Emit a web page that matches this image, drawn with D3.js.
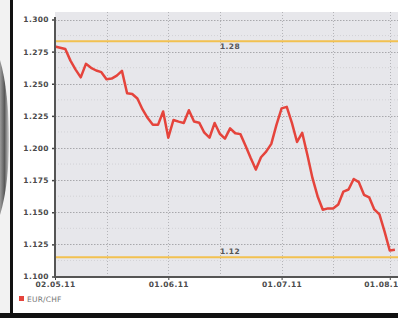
<!DOCTYPE html>
<html>
<head>
<meta charset="utf-8">
<script src="https://cdn.jsdelivr.net/npm/d3@7/dist/d3.min.js"></script>
<style>
  html, body { margin: 0; padding: 0; background: #fff; }
  svg { display: block; }
</style>
</head>
<body>
<script>
// ---- data ----
const seriesName = "EUR/CHF";
// daily (trading-day) closes, 02.05.11 .. 02.08.11
const values = [
  1.279, 1.278, 1.277, 1.268, 1.261, 1.255, 1.2655, 1.2624, 1.2603, 1.259,
  1.2535, 1.254, 1.2563, 1.260, 1.2426, 1.242, 1.2385, 1.230, 1.2233, 1.218,
  1.218, 1.2284, 1.208, 1.2218, 1.2205, 1.2195, 1.2294, 1.2206, 1.2197, 1.2119,
  1.208, 1.2195, 1.2111, 1.2073, 1.2153, 1.2115, 1.2108, 1.2018, 1.1922, 1.1832,
  1.1928, 1.1972, 1.2032, 1.218, 1.2308, 1.232, 1.2195, 1.2047, 1.2118, 1.1947,
  1.1765, 1.1623, 1.152, 1.153, 1.153, 1.1561, 1.1661, 1.1677, 1.1759, 1.1734,
  1.1636, 1.1616, 1.1522, 1.1483, 1.1349, 1.1202, 1.1208
];
const xTickIndex = [0, 22, 44, 65];
const xTickLabels = ["02.05.11", "01.06.11", "01.07.11", "01.08.11"];
const xMinorIndex = [10, 32, 54];
const yTicks = [1.100, 1.125, 1.150, 1.175, 1.200, 1.225, 1.250, 1.275, 1.300];
const refValues = [1.283, 1.115];
const refLabels = ["1.28", "1.12"];

// ---- layout ----
const W = 398, H = 318;
const svg = d3.select("body").append("svg").attr("width", W).attr("height", H);

const plotL = 55, plotR = 398, plotT = 12, plotB = 277;
const x = d3.scaleLinear().domain([0, 65]).range([55, 389.75]);
const y = d3.scaleLinear().domain([1.1, 1.3]).range([276.5, 19.5]);

// left photographed edge
const defs = svg.append("defs");
const g1 = defs.append("linearGradient").attr("id", "edge").attr("x1", 0).attr("x2", 1);
g1.append("stop").attr("offset", 0).attr("stop-color", "#9a9a9a");
g1.append("stop").attr("offset", 0.5).attr("stop-color", "#5a5a5a");
g1.append("stop").attr("offset", 1).attr("stop-color", "#cfcfcf");
svg.append("rect").attr("x", 0).attr("y", 0).attr("width", 10).attr("height", H).attr("fill", "#f2f2f2");
svg.append("path")
  .attr("d", "M0,60 C6,80 9,110 9,140 C9,170 6,195 0,215 Z")
  .attr("fill", "url(#edge)");
svg.append("rect").attr("x", 10).attr("y", 0).attr("width", 3).attr("height", H).attr("fill", "#111");
svg.append("rect").attr("x", 0).attr("y", 313).attr("width", W).attr("height", 5).attr("fill", "#111");

// plot background
svg.append("rect").attr("x", plotL).attr("y", plotT).attr("width", plotR - plotL).attr("height", plotB - plotT)
  .attr("fill", "#e7e7eb");

// minor horizontal grid
const minorY = d3.range(0, 16).map(i => 1.1 + 0.0125 + i * 0.025).filter(v => v < 1.3);
svg.append("g").selectAll("line").data(minorY).join("line")
  .attr("x1", plotL).attr("x2", plotR)
  .attr("y1", d => y(d)).attr("y2", d => y(d))
  .attr("stroke", "#d2d2d6").attr("stroke-width", 1).attr("stroke-dasharray", "1,2");
// major horizontal grid
svg.append("g").selectAll("line").data(yTicks.slice(1)).join("line")
  .attr("x1", plotL).attr("x2", plotR)
  .attr("y1", d => Math.round(y(d)) + 0.5).attr("y2", d => Math.round(y(d)) + 0.5)
  .attr("stroke", "#a8a8ac").attr("stroke-width", 1).attr("stroke-dasharray", "1.5,1.5");
// vertical grid
svg.append("g").selectAll("line").data(xTickIndex.slice(1).concat(xMinorIndex)).join("line")
  .attr("x1", d => Math.round(x(d)) + 0.5).attr("x2", d => Math.round(x(d)) + 0.5)
  .attr("y1", plotT).attr("y2", plotB)
  .attr("stroke", "#b4b4b8").attr("stroke-width", 1).attr("stroke-dasharray", "1,2");

// reference lines
svg.append("g").selectAll("line").data(refValues).join("line")
  .attr("x1", plotL).attr("x2", plotR)
  .attr("y1", d => y(d)).attr("y2", d => y(d))
  .attr("stroke", "#f2c150").attr("stroke-width", 2);
svg.append("g").selectAll("text").data(refValues).join("text")
  .attr("x", 230)
  .attr("y", (d, i) => i === 0 ? y(d) + 8 : y(d) - 3)
  .attr("text-anchor", "middle")
  .attr("font-family", "DejaVu Sans, sans-serif").attr("font-size", 7.5).attr("font-weight", "bold")
  .attr("letter-spacing", 0.4)
  .attr("fill", "#555")
  .text((d, i) => refLabels[i]);

// series line
const line = d3.line().x((d, i) => x(i)).y(d => y(d));
svg.append("path").datum(values)
  .attr("d", line)
  .attr("fill", "none")
  .attr("stroke", "#e5443c").attr("stroke-width", 2.5)
  .attr("stroke-linejoin", "round");

// axes
const yAxis = d3.axisLeft(y).tickValues(yTicks).tickSize(3).tickPadding(3).tickFormat(d3.format(".3f"));
const gy = svg.append("g").attr("transform", `translate(${plotL},0)`).call(yAxis);
gy.select(".domain").remove();
gy.selectAll("line").attr("stroke", "#444").attr("stroke-width", 1.5);
gy.selectAll("text").attr("font-family", "DejaVu Sans, sans-serif").attr("font-size", 7.5)
  .attr("font-weight", "bold").attr("fill", "#4a4a4a").attr("letter-spacing", 0.4);

const xAxis = d3.axisBottom(x).tickValues(xTickIndex).tickSize(3).tickPadding(2)
  .tickFormat((d, i) => xTickLabels[i]);
const gx = svg.append("g").attr("transform", `translate(0,${plotB})`).call(xAxis);
gx.select(".domain").remove();
gx.selectAll("line").attr("stroke", "#444").attr("stroke-width", 1);
gx.selectAll("text").attr("font-family", "DejaVu Sans, sans-serif").attr("font-size", 7.5)
  .attr("font-weight", "bold").attr("fill", "#4a4a4a").attr("letter-spacing", 0.4)
  .attr("dx", (d, i) => i === xTickIndex.length - 1 ? -6 : 0);

svg.append("line").attr("x1", plotL).attr("x2", plotL).attr("y1", 17).attr("y2", plotB + 1)
  .attr("stroke", "#555").attr("stroke-width", 2);
svg.append("line").attr("x1", plotL).attr("x2", plotR).attr("y1", plotB).attr("y2", plotB)
  .attr("stroke", "#555").attr("stroke-width", 2);

// legend
svg.append("rect").attr("x", 19).attr("y", 296).attr("width", 5).attr("height", 5).attr("fill", "#e5443c");
svg.append("text").attr("x", 27).attr("y", 302)
  .attr("font-family", "DejaVu Sans, sans-serif").attr("font-size", 7.5)
  .attr("fill", "#777").attr("letter-spacing", 0.2)
  .text(seriesName);
</script>
</body>
</html>
